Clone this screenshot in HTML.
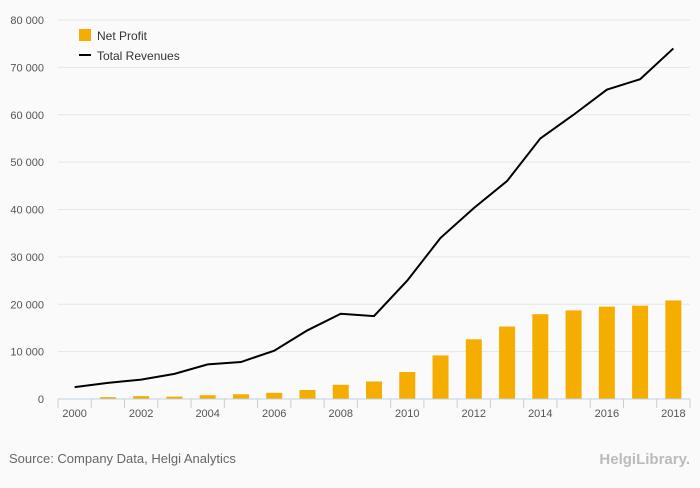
<!DOCTYPE html>
<html><head><meta charset="utf-8"><style>
body{margin:0;background:#fafafa;font-family:"Liberation Sans",sans-serif}
svg text{font-family:"Liberation Sans",sans-serif}
</style></head><body>
<svg id="c" width="700" height="483">
<rect width="700" height="483" fill="#fafafa"/>
<g id="grid"></g><g id="bars"></g><g id="line"></g><g id="axis"></g>
<g>
<rect x="79" y="29" width="12" height="12" fill="#f5ad00"/>
<text x="97" y="40" font-size="12" fill="#333">Net Profit</text>
<line x1="79" y1="55" x2="91" y2="55" stroke="#000" stroke-width="2"/>
<text x="97" y="60" font-size="12" fill="#333">Total Revenues</text>
</g>
<text x="9" y="463" font-size="13" fill="#666">Source: Company Data, Helgi Analytics</text>
<text x="690" y="464" font-size="15" fill="#bbb" text-anchor="end" font-weight="bold">HelgiLibrary.</text>
</svg>
<script>
const years=[2000,2001,2002,2003,2004,2005,2006,2007,2008,2009,2010,2011,2012,2013,2014,2015,2016,2017,2018];
const profit=[0,400,600,500,800,1000,1300,1900,3000,3700,5700,9200,12600,15300,17900,18700,19500,19700,20800];
const revenues=[2500,3400,4100,5300,7300,7800,10200,14500,18000,17500,25000,34000,40300,46000,55000,60000,65300,67500,74000];
const yTicks=[0,10000,20000,30000,40000,50000,60000,70000,80000];
const L=58,R=690,T=20,B=399,NS='http://www.w3.org/2000/svg';
const bw=(R-L)/years.length;
const x=i=>L+bw*(i+0.5);
const y=v=>B-(v/80000)*(B-T);
function mk(t,a,p){const e=document.createElementNS(NS,t);for(const k in a)e.setAttribute(k,a[k]);p.appendChild(e);return e;}
const g=document.getElementById('grid'),ba=document.getElementById('bars'),li=document.getElementById('line'),ax=document.getElementById('axis');
yTicks.forEach(v=>{
 if(v>0){const l=mk('line',{x1:L,x2:R,y1:y(v),y2:y(v),stroke:'#e6e6e6'},g);
 
 }
 const t=mk('text',{x:44,y:y(v)+4,'font-size':11,fill:'#555','text-anchor':'end'},g);
 t.textContent=v.toLocaleString('en-US').replace(/,/g,' ');
 
 
});
profit.forEach((v,i)=>{
 const r=mk('rect',{x:x(i)-8,y:y(v),width:16,height:B-y(v),fill:'#f5ad00'},ba);
 
 
});
const p=mk('polyline',{points:revenues.map((v,i)=>x(i)+','+y(v)).join(' '),fill:'none',stroke:'#000','stroke-width':2},li);


const a=mk('line',{x1:L,x2:R,y1:B,y2:B,stroke:'#c0d0e0'},ax);


for(let i=0;i<=years.length;i++){
 const tk=mk('line',{x1:L+bw*i,x2:L+bw*i,y1:B,y2:B+9,stroke:'#c0d0e0'},ax);
 
 
}
years.forEach((yr,i)=>{if(i%2)return;
 const t=mk('text',{x:x(i),y:417,'font-size':11,fill:'#555','text-anchor':'middle'},ax);
 t.textContent=yr;
 
 
});
</script>
</body></html>
